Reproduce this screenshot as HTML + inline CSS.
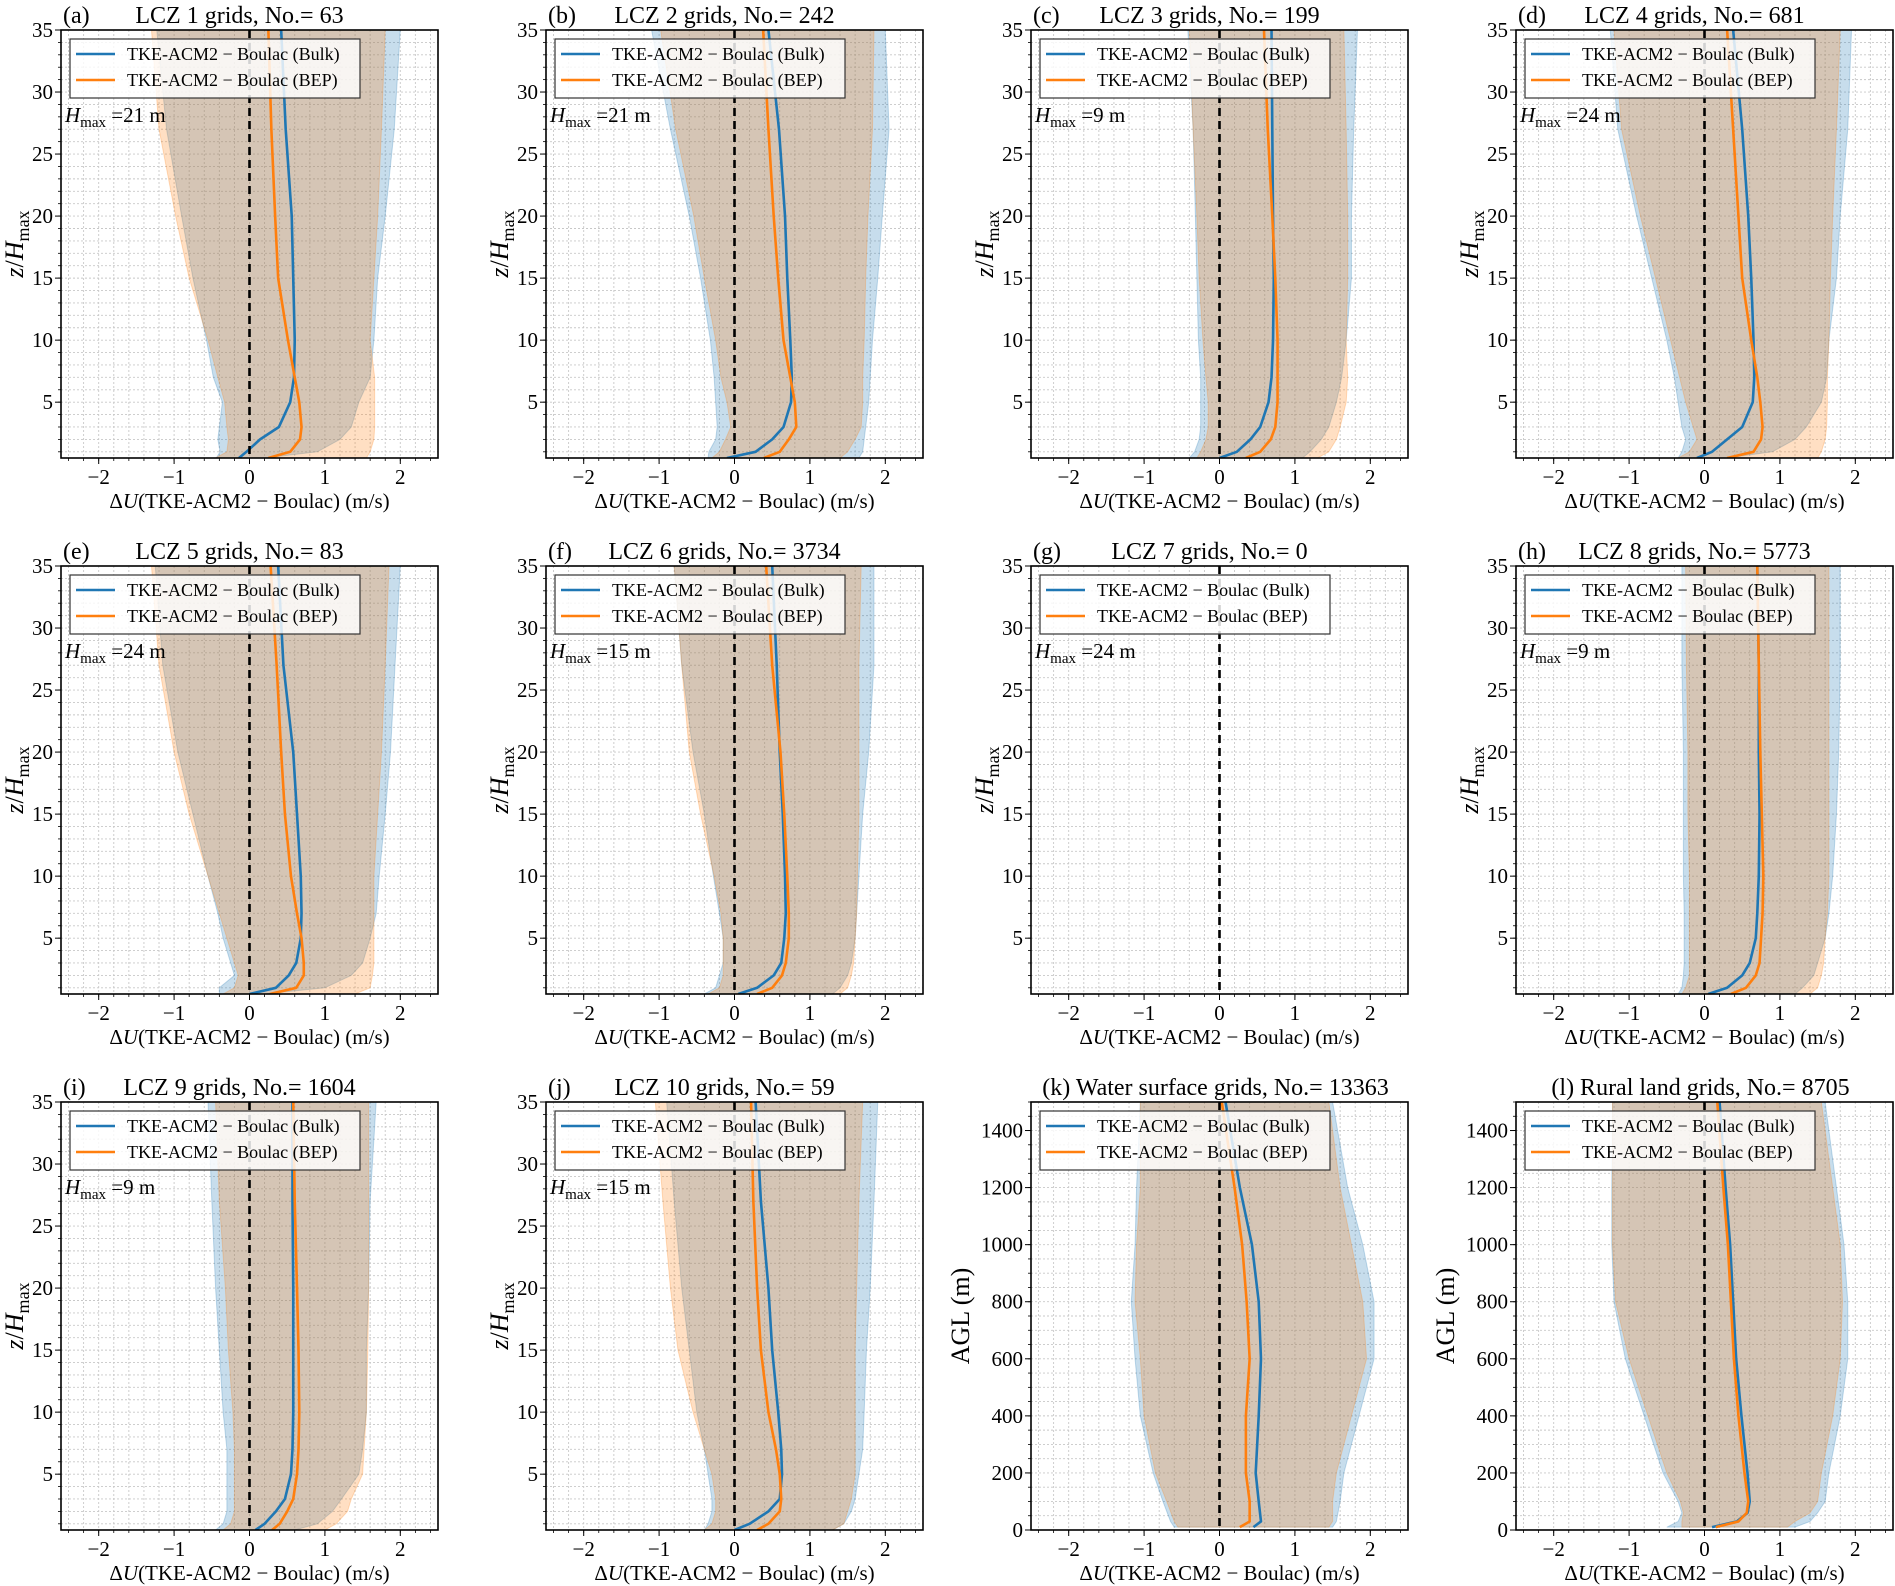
<!DOCTYPE html>
<html><head><meta charset="utf-8"><title>ΔU profiles</title>
<style>
html,body{margin:0;padding:0;background:#fff;}
svg{display:block;font-family:"Liberation Serif","DejaVu Serif",serif;}
</style></head>
<body>
<svg id="fig" width="1895" height="1586" viewBox="0 0 1895 1586" xmlns="http://www.w3.org/2000/svg"></svg>
<script>
// ---------- data ----------
const Z = [0.5,1,2,3,5,7,10,15,20,27,35];
const ZW = [10,30,100,200,400,600,800,1000,1200,1500];
const ZR = [10,30,60,100,200,400,600,800,1000,1200,1500];
const xTicks = [-2,-1,0,1,2];
const yTicksLcz = [5,10,15,20,25,30,35];
const yTicksAgl = [0,200,400,600,800,1000,1200,1400];

const aBulk=[-0.14,-0.04,0.14,0.39,0.54,0.59,0.6,0.58,0.56,0.48,0.42];
const aBulkLo=[-0.44,-0.39,-0.42,-0.4,-0.36,-0.48,-0.57,-0.75,-0.9,-1.1,-1.23];
const aBulkHi=[0.2,0.9,1.2,1.35,1.45,1.6,1.65,1.7,1.8,1.92,2.0];
const aBep=[0.25,0.54,0.67,0.69,0.66,0.6,0.51,0.38,0.34,0.29,0.25];
const aBepLo=[-0.45,-0.3,-0.28,-0.3,-0.33,-0.42,-0.55,-0.8,-0.98,-1.2,-1.3];
const aBepHi=[1.55,1.6,1.65,1.66,1.66,1.66,1.6,1.65,1.7,1.75,1.8];

const bBulk=[-0.1,0.28,0.5,0.65,0.75,0.76,0.74,0.7,0.67,0.59,0.45];
const bBulkLo=[-0.35,-0.34,-0.25,-0.23,-0.25,-0.27,-0.32,-0.45,-0.6,-0.85,-1.1];
const bBulkHi=[1.65,1.7,1.72,1.74,1.78,1.8,1.83,1.9,1.96,2.05,2.0];
const bBep=[0.39,0.6,0.72,0.82,0.8,0.74,0.65,0.58,0.52,0.45,0.38];
const bBepLo=[-0.3,-0.2,-0.12,-0.05,-0.1,-0.18,-0.25,-0.4,-0.54,-0.78,-0.98];
const bBepHi=[1.4,1.5,1.6,1.68,1.7,1.7,1.72,1.74,1.77,1.83,1.85];

const cBulk=[0.0,0.23,0.41,0.54,0.65,0.69,0.71,0.72,0.71,0.7,0.69];
const cBulkLo=[-0.4,-0.33,-0.27,-0.25,-0.25,-0.25,-0.28,-0.3,-0.32,-0.35,-0.42];
const cBulkHi=[1.1,1.2,1.35,1.45,1.55,1.62,1.68,1.75,1.75,1.78,1.83];
const cBep=[0.35,0.54,0.68,0.74,0.77,0.77,0.77,0.74,0.7,0.64,0.59];
const cBepLo=[-0.3,-0.25,-0.18,-0.15,-0.15,-0.18,-0.22,-0.27,-0.3,-0.35,-0.4];
const cBepHi=[1.3,1.45,1.55,1.6,1.68,1.7,1.68,1.7,1.7,1.68,1.65];

const dBulk=[-0.1,0.1,0.3,0.5,0.64,0.66,0.65,0.62,0.58,0.5,0.38];
const dBulkLo=[-0.35,-0.3,-0.25,-0.3,-0.35,-0.4,-0.5,-0.7,-0.9,-1.15,-1.25];
const dBulkHi=[0.3,0.9,1.2,1.35,1.55,1.62,1.65,1.75,1.8,1.9,1.95];
const dBep=[0.3,0.65,0.75,0.77,0.74,0.7,0.62,0.5,0.45,0.38,0.3];
const dBepLo=[-0.35,-0.2,-0.1,-0.15,-0.25,-0.33,-0.45,-0.65,-0.85,-1.1,-1.2];
const dBepHi=[1.5,1.55,1.6,1.62,1.63,1.63,1.65,1.67,1.7,1.75,1.8];

const eBulk=[0.0,0.35,0.52,0.62,0.68,0.69,0.68,0.63,0.58,0.45,0.38];
const eBulkLo=[-0.4,-0.4,-0.2,-0.25,-0.35,-0.42,-0.55,-0.75,-0.95,-1.15,-1.25];
const eBulkHi=[0.2,1.0,1.35,1.5,1.6,1.68,1.72,1.8,1.87,1.93,2.0];
const eBep=[0.27,0.62,0.72,0.72,0.69,0.63,0.55,0.47,0.42,0.36,0.28];
const eBepLo=[-0.35,-0.2,-0.15,-0.2,-0.3,-0.4,-0.55,-0.8,-1.0,-1.2,-1.3];
const eBepHi=[1.4,1.6,1.63,1.65,1.65,1.65,1.65,1.7,1.75,1.8,1.85];

const fBulk=[0.05,0.3,0.52,0.62,0.66,0.68,0.67,0.64,0.6,0.56,0.5];
const fBulkLo=[-0.4,-0.25,-0.2,-0.15,-0.15,-0.2,-0.28,-0.4,-0.55,-0.7,-0.8];
const fBulkHi=[1.3,1.4,1.5,1.55,1.6,1.62,1.65,1.7,1.78,1.85,1.85];
const fBep=[0.3,0.5,0.63,0.68,0.72,0.72,0.7,0.66,0.61,0.5,0.42];
const fBepLo=[-0.35,-0.2,-0.15,-0.15,-0.15,-0.18,-0.27,-0.45,-0.6,-0.7,-0.8];
const fBepHi=[1.4,1.5,1.55,1.58,1.6,1.62,1.63,1.65,1.65,1.65,1.68];

const hBulk=[0.05,0.3,0.5,0.6,0.68,0.7,0.72,0.73,0.72,0.72,0.7];
const hBulkLo=[-0.35,-0.3,-0.28,-0.27,-0.27,-0.27,-0.28,-0.28,-0.28,-0.3,-0.3];
const hBulkHi=[1.2,1.3,1.45,1.5,1.6,1.65,1.7,1.75,1.78,1.8,1.8];
const hBep=[0.35,0.55,0.68,0.73,0.75,0.77,0.78,0.76,0.74,0.72,0.7];
const hBepLo=[-0.3,-0.25,-0.2,-0.2,-0.2,-0.2,-0.2,-0.22,-0.22,-0.24,-0.25];
const hBepHi=[1.4,1.5,1.55,1.58,1.6,1.63,1.65,1.65,1.65,1.65,1.65];

const iBulk=[0.08,0.2,0.35,0.47,0.55,0.57,0.58,0.58,0.58,0.57,0.57];
const iBulkLo=[-0.45,-0.35,-0.3,-0.3,-0.3,-0.3,-0.35,-0.4,-0.45,-0.5,-0.55];
const iBulkHi=[0.6,0.9,1.1,1.22,1.45,1.5,1.55,1.55,1.58,1.6,1.68];
const iBep=[0.3,0.4,0.5,0.58,0.63,0.65,0.66,0.65,0.63,0.6,0.58];
const iBepLo=[-0.35,-0.25,-0.2,-0.2,-0.2,-0.2,-0.22,-0.28,-0.32,-0.4,-0.45];
const iBepHi=[1.0,1.15,1.3,1.35,1.5,1.52,1.55,1.57,1.58,1.58,1.58];

const jBulk=[0.0,0.2,0.45,0.6,0.63,0.62,0.58,0.5,0.45,0.35,0.28];
const jBulkLo=[-0.4,-0.35,-0.3,-0.3,-0.35,-0.4,-0.5,-0.6,-0.7,-0.8,-0.9];
const jBulkHi=[1.3,1.45,1.55,1.6,1.65,1.7,1.72,1.75,1.8,1.85,1.9];
const jBep=[0.3,0.45,0.6,0.62,0.6,0.55,0.45,0.35,0.3,0.25,0.22];
const jBepLo=[-0.4,-0.3,-0.25,-0.25,-0.3,-0.4,-0.55,-0.75,-0.85,-0.95,-1.05];
const jBepHi=[1.3,1.45,1.5,1.55,1.6,1.6,1.6,1.6,1.62,1.65,1.7];

const kBulk=[0.45,0.55,0.52,0.48,0.52,0.55,0.52,0.43,0.27,0.08];
const kBulkLo=[-0.6,-0.65,-0.75,-0.88,-1.05,-1.12,-1.17,-1.12,-1.1,-1.05];
const kBulkHi=[1.5,1.55,1.6,1.65,1.85,2.05,2.05,1.9,1.7,1.5];
const kBep=[0.27,0.4,0.4,0.35,0.35,0.4,0.36,0.3,0.2,0.03];
const kBepLo=[-0.55,-0.6,-0.7,-0.85,-1.0,-1.05,-1.12,-1.1,-1.05,-1.05];
const kBepHi=[1.45,1.5,1.5,1.55,1.75,1.95,1.9,1.75,1.6,1.45];

const lBulk=[0.1,0.43,0.57,0.6,0.57,0.49,0.42,0.38,0.34,0.28,0.2];
const lBulkLo=[-0.5,-0.35,-0.3,-0.35,-0.55,-0.8,-1.05,-1.2,-1.23,-1.23,-1.22];
const lBulkHi=[1.2,1.4,1.5,1.6,1.65,1.8,1.9,1.9,1.85,1.75,1.6];
const lBep=[0.15,0.45,0.56,0.58,0.53,0.45,0.39,0.35,0.31,0.25,0.17];
const lBepLo=[-0.3,-0.3,-0.28,-0.32,-0.5,-0.75,-1.0,-1.18,-1.22,-1.22,-1.22];
const lBepHi=[1.1,1.2,1.4,1.5,1.55,1.7,1.8,1.83,1.8,1.7,1.55];

const panels = [
 {tag:'a',title:'LCZ 1 grids, No.= 63',hmax:'21',agl:false,lv:Z,d:[aBulk,aBulkLo,aBulkHi,aBep,aBepLo,aBepHi]},
 {tag:'b',title:'LCZ 2 grids, No.= 242',hmax:'21',agl:false,lv:Z,d:[bBulk,bBulkLo,bBulkHi,bBep,bBepLo,bBepHi]},
 {tag:'c',title:'LCZ 3 grids, No.= 199',hmax:'9',agl:false,lv:Z,d:[cBulk,cBulkLo,cBulkHi,cBep,cBepLo,cBepHi]},
 {tag:'d',title:'LCZ 4 grids, No.= 681',hmax:'24',agl:false,lv:Z,d:[dBulk,dBulkLo,dBulkHi,dBep,dBepLo,dBepHi]},
 {tag:'e',title:'LCZ 5 grids, No.= 83',hmax:'24',agl:false,lv:Z,d:[eBulk,eBulkLo,eBulkHi,eBep,eBepLo,eBepHi]},
 {tag:'f',title:'LCZ 6 grids, No.= 3734',hmax:'15',agl:false,lv:Z,d:[fBulk,fBulkLo,fBulkHi,fBep,fBepLo,fBepHi]},
 {tag:'g',title:'LCZ 7 grids, No.= 0',hmax:'24',agl:false,lv:Z,d:null},
 {tag:'h',title:'LCZ 8 grids, No.= 5773',hmax:'9',agl:false,lv:Z,d:[hBulk,hBulkLo,hBulkHi,hBep,hBepLo,hBepHi]},
 {tag:'i',title:'LCZ 9 grids, No.= 1604',hmax:'9',agl:false,lv:Z,d:[iBulk,iBulkLo,iBulkHi,iBep,iBepLo,iBepHi]},
 {tag:'j',title:'LCZ 10 grids, No.= 59',hmax:'15',agl:false,lv:Z,d:[jBulk,jBulkLo,jBulkHi,jBep,jBepLo,jBepHi]},
 {tag:'k',title:'Water surface grids, No.= 13363',hmax:null,agl:true,lv:ZW,d:[kBulk,kBulkLo,kBulkHi,kBep,kBepLo,kBepHi]},
 {tag:'l',title:'Rural land grids, No.= 8705',hmax:null,agl:true,lv:ZR,d:[lBulk,lBulkLo,lBulkHi,lBep,lBepLo,lBepHi]}
];

// ---------- drawing ----------
const NS='http://www.w3.org/2000/svg';
const svg=document.getElementById('fig');
const COLX=[61,546,1031,1516], ROWY=[30,566,1102], AW=377, AH=428;
const BLUE='#1f77b4', ORANGE='#ff7f0e';
function mk(tag,attrs,parent){const e=document.createElementNS(NS,tag);for(const k in attrs)e.setAttribute(k,attrs[k]);(parent||svg).appendChild(e);return e;}
function fmt(v){return v<0?'\u2212'+Math.abs(v):String(v);}

panels.forEach((p,idx)=>{
  const L=COLX[idx%4], T=ROWY[Math.floor(idx/4)];
  const ymin=p.agl?0:0.5, ymax=p.agl?1500:35;
  const sx=v=>L+(v+2.5)/5*AW;
  const sy=v=>T+AH-(v-ymin)/(ymax-ymin)*AH;
  const g=mk('g',{});
  
  
  const cid='clip'+p.tag;
  const cp=mk('clipPath',{id:cid},g); mk('rect',{x:L,y:T,width:AW,height:AH},cp);
  const grid=mk('g',{stroke:'#c8c8c8','stroke-width':0.9,'stroke-dasharray':'2,2'},g);
  
  
  for(let v=-2.4;v<2.45;v+=0.2){const x=sx(v);mk('line',{x1:x,x2:x,y1:T,y2:T+AH},grid);}
  const ystep=p.agl?50:1;
  for(let v=p.agl?0:1;v<=ymax;v+=ystep){const y=sy(v);mk('line',{x1:L,x2:L+AW,y1:y,y2:y},grid);}
  const dg=mk('g',{'clip-path':'url(#'+cid+')'},g);
  if(p.d){
    const [bm,bl,bh,em,el,eh]=p.d;
    const band=(lo,hi,col,name)=>{
      let pts=p.lv.map((z,i)=>sx(lo[i])+','+sy(z));
      pts=pts.concat(p.lv.map((z,i)=>sx(hi[i])+','+sy(z)).reverse());
      const e=mk('polygon',{points:pts.join(' '),fill:col,'fill-opacity':0.25,stroke:col,'stroke-opacity':0.25,'stroke-width':1},dg);
      
      
    };
    band(bl,bh,BLUE,'bulk-spread-band');
    band(el,eh,ORANGE,'bep-spread-band');
    const line=(m,col,name)=>{
      const e=mk('polyline',{points:p.lv.map((z,i)=>sx(m[i])+','+sy(z)).join(' '),fill:'none',stroke:col,'stroke-width':2.6,'stroke-linejoin':'round'},dg);
      
      
    };
    line(bm,BLUE,'bulk-mean-line');
    line(em,ORANGE,'bep-mean-line');
  }
  const zl=mk('line',{x1:sx(0),x2:sx(0),y1:T,y2:T+AH,stroke:'#000','stroke-width':2.6,'stroke-dasharray':'8,5'},g);
  
  
  const fr=mk('rect',{x:L,y:T,width:AW,height:AH,fill:'none',stroke:'#000','stroke-width':1.6},g);
  
  
  for(let v=-2.4;v<2.45;v+=0.2){const x=sx(v);mk('line',{x1:x,x2:x,y1:T+AH,y2:T+AH+3,stroke:'#000','stroke-width':0.8},g);}
  xTicks.forEach(v=>{
    const x=sx(v);
    mk('line',{x1:x,x2:x,y1:T+AH,y2:T+AH+6,stroke:'#000','stroke-width':1},g);
    const t=mk('text',{x:x,y:T+AH+26,'text-anchor':'middle','font-size':21},g);
    t.textContent=fmt(v);
    
    
  });
  for(let v=p.agl?0:1;v<=ymax;v+=(p.agl?50:1)){const y=sy(v);mk('line',{x1:L-3,x2:L,y1:y,y2:y,stroke:'#000','stroke-width':0.8},g);}
  (p.agl?yTicksAgl:yTicksLcz).forEach(v=>{
    const y=sy(v);
    mk('line',{x1:L-6,x2:L,y1:y,y2:y,stroke:'#000','stroke-width':1},g);
    const t=mk('text',{x:L-8,y:y+7,'text-anchor':'end','font-size':21},g);
    t.textContent=String(v);
    
    
  });
  const xl=mk('text',{x:L+AW/2,y:T+AH+50,'text-anchor':'middle','font-size':21},g);
  xl.innerHTML='\u0394<tspan font-style="italic">U</tspan>(TKE-ACM2 \u2212 Boulac) (m/s)';
  
  
  const yx=p.agl?L-62:L-38, yy=T+AH/2;
  const yl=mk('text',{x:yx,y:yy,'text-anchor':'middle','font-size':26,transform:'rotate(-90 '+yx+' '+yy+')'},g);
  if(p.agl){yl.textContent='AGL (m)';}
  else{yl.innerHTML='<tspan font-style="italic">z</tspan>/<tspan font-style="italic">H</tspan><tspan font-size="18" dy="6">max</tspan>';}
  
  
  if(p.agl){
    const tt=mk('text',{x:L+AW/2-4,y:T-7,'text-anchor':'middle','font-size':24},g);
    tt.textContent='('+p.tag+') '+p.title;
    
    
  } else {
    const pl=mk('text',{x:L+2,y:T-7,'font-size':24},g);
    pl.textContent='('+p.tag+')';
    
    
    const tt=mk('text',{x:L+AW/2-10,y:T-7,'text-anchor':'middle','font-size':24},g);
    tt.textContent=p.title;
    
    
  }
  const lg=mk('g',{},g);
  
  
  mk('rect',{x:L+9,y:T+9,width:290,height:59,fill:'#fff','fill-opacity':0.82,stroke:'#333','stroke-width':1.2},lg);
  [['TKE-ACM2 \u2212 Boulac (Bulk)',BLUE,0],['TKE-ACM2 \u2212 Boulac (BEP)',ORANGE,1]].forEach(([lab,col,i])=>{
    const y=T+24+i*26;
    const ln=mk('line',{x1:L+15,x2:L+54,y1:y,y2:y,stroke:col,'stroke-width':2.6},lg);
    
    
    const t=mk('text',{x:L+66,y:y+6,'font-size':18},lg);
    t.textContent=lab;
    
    
  });
  if(p.hmax){
    const h=mk('text',{x:L+4,y:T+92,'font-size':21},g);
    h.innerHTML='<tspan font-style="italic">H</tspan><tspan font-size="15" dy="5">max</tspan><tspan dy="-5"> =</tspan>'+p.hmax+' m';
    
    
  }
});
</script>
</body></html>
